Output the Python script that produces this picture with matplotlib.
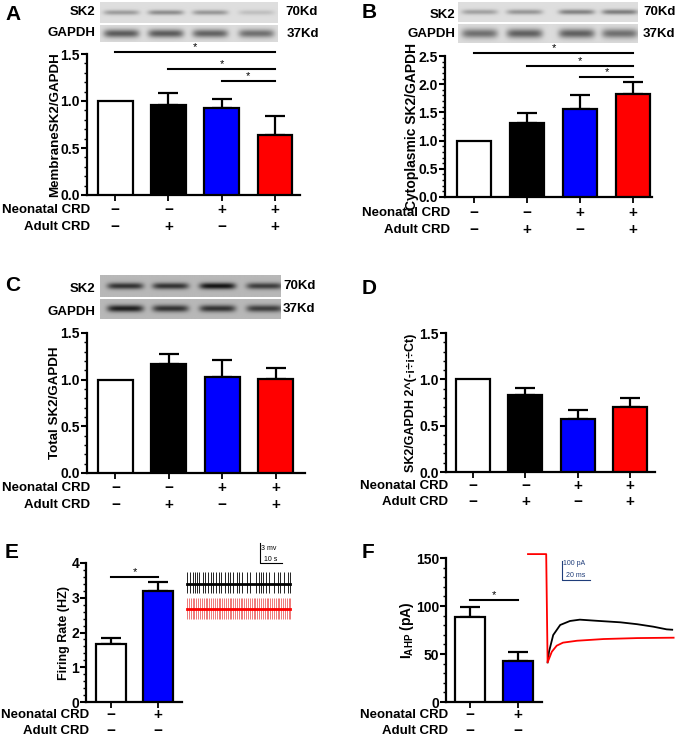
import numpy as np
import matplotlib
matplotlib.use("Agg")
import matplotlib.pyplot as plt
from matplotlib.ticker import MultipleLocator

plt.rcParams['font.family'] = ['Liberation Sans', 'DejaVu Sans']
plt.rcParams['font.weight'] = 'bold'

# ---------------- data ----------------
colors4 = ['white', 'black', '#0000ff', '#ff0000']
neonatal4 = ['−', '−', '+', '+']
adult4 = ['−', '+', '−', '+']

membrane_mean = [1.0, 0.96, 0.93, 0.64]
membrane_err = [0.0, 0.12, 0.09, 0.20]

cyto_mean = [1.0, 1.31, 1.56, 1.82]
cyto_err = [0.0, 0.18, 0.24, 0.22]

total_mean = [1.0, 1.17, 1.03, 1.01]
total_err = [0.0, 0.11, 0.18, 0.11]

mrna_mean = [1.0, 0.83, 0.57, 0.70]
mrna_err = [0.0, 0.08, 0.10, 0.10]

colors2 = ['white', '#0000ff']
neonatal2 = ['−', '+']
adult2 = ['−', '−']

firing_mean = [1.67, 3.19]
firing_err = [0.18, 0.25]

iahp_mean = [88.5, 43.0]
iahp_err = [10.5, 9.5]

# significance brackets: (from bar, to bar, height)
sig_A = [(0, 3, 1.52), (1, 3, 1.34), (2, 3, 1.21)]
sig_B = [(0, 3, 2.55), (1, 3, 2.32), (2, 3, 2.13)]
sig_E = [(0, 1, 3.6)]
sig_F = [(0, 1, 106)]

# blot band intensities (darkness 0..1) per lane
blotA_sk2 = [0.26, 0.32, 0.28, 0.12]
blotA_gapdh = [0.50, 0.50, 0.47, 0.42]
blotB_sk2 = [0.24, 0.28, 0.36, 0.38]
blotB_gapdh = [0.42, 0.48, 0.48, 0.42]
blotC_sk2 = [0.52, 0.52, 0.64, 0.48]
blotC_gapdh = [0.60, 0.52, 0.52, 0.48]

# firing traces (spike times, s)
black_spikes = [0, 1.2, 2.5, 3.5, 4.6, 5.5, 7.4, 8.3, 9.5, 10.8, 12.0, 13.2, 14.6, 15.7,
                17.2, 18.6, 19.7, 21.2, 23.0, 24.0, 25.2, 27.3, 29.0, 31.8, 32.9, 34.1,
                35.0, 36.3, 37.8, 39.8, 41.8, 42.7, 44.5, 46.2, 47.3]
red_spikes = [0, 0.8, 1.7, 2.5, 3.3, 4.2, 5.0, 5.9, 6.7, 7.6, 8.4, 9.3, 10.1, 11.0, 11.8,
              12.6, 13.5, 14.4, 15.2, 16.1, 16.9, 17.7, 18.6, 19.5, 20.3, 21.2, 22.0, 22.9,
              23.7, 24.6, 25.4, 26.3, 27.1, 28.0, 28.8, 29.7, 30.5, 31.4, 32.2, 33.1, 33.9,
              34.8, 35.6, 36.5, 37.3, 38.2, 39.0, 39.9, 40.7, 41.6, 42.4, 43.3, 44.1, 45.0,
              45.8, 46.7, 47.3]

# IAHP traces (ms, pA)
red_t = [0, 13, 14, 17, 20.5, 25, 35, 54, 78, 104]
red_i = [440, 440, -130, -74, -42, -26, -16, -7, -2, 0]
black_t = [14, 15, 18, 23, 30, 37, 49, 66, 78, 89.5, 99, 103]
black_i = [-130, -74, 14, 67, 88, 95, 89, 81, 71, 58, 44, 42]

# ---------------- figure ----------------
W, H = 678, 738
fig = plt.figure(figsize=(W / 100, H / 100), dpi=100)
FS = 9.5
TFS = 10


def add_ax(l, r, t, b):
    return fig.add_axes([l / W, 1 - b / H, (r - l) / W, (b - t) / H])


def fx(px):
    return px / W


def fy(py):
    return 1 - py / H


def bar_panel(box, means, errs, cols, ylim, major, minor, ylabel, xlim, width,
              neo, adu, rows_px, label_right, ylab_px, ylab_fs):
    ax = add_ax(*box)
    x = np.arange(len(means))
    ax.bar(x, means, width=width, color=cols, edgecolor='black', linewidth=1.6, zorder=3)
    for xi, m, e in zip(x, means, errs):
        if e > 0:
            ax.errorbar(xi, m, yerr=[[0], [e]], color='black', elinewidth=1.6,
                        capsize=7, capthick=1.6, zorder=2)
    ax.set_ylim(*ylim)
    ax.set_xlim(*xlim)
    for s in ['top', 'right']:
        ax.spines[s].set_visible(False)
    for s in ['left', 'bottom']:
        ax.spines[s].set_linewidth(1.6)
    ax.yaxis.set_major_locator(MultipleLocator(major))
    ax.yaxis.set_minor_locator(MultipleLocator(minor))
    ax.tick_params(axis='y', which='major', length=4, width=1.5, labelsize=TFS, pad=1)
    ax.tick_params(axis='y', which='minor', length=2.5, width=1.0)
    ax.set_xticks(x)
    ax.set_xticklabels([])
    ax.tick_params(axis='x', length=4, width=1.3)
    yfmt = '{:.1f}' if major < 1 else '{:.0f}'
    ax.set_yticklabels([yfmt.format(v) for v in ax.get_yticks()], fontweight='bold')
    ax.set_ylim(*ylim)
    axh = box[3] - box[2]
    for row, labs in zip(rows_px, [neo, adu]):
        for xi, lab in zip(x, labs):
            ax.text(xi, -(row - box[3]) / axh, lab, transform=ax.get_xaxis_transform(),
                    ha='center', va='center', fontsize=11, fontweight='bold')
    fig.text(fx(label_right), fy(rows_px[0]), 'Neonatal CRD', ha='right', va='center',
             fontsize=FS, fontweight='bold')
    fig.text(fx(label_right), fy(rows_px[1]), 'Adult CRD', ha='right', va='center',
             fontsize=FS, fontweight='bold')
    fig.text(fx(ylab_px), fy((box[2] + box[3]) / 2), ylabel, rotation=90, ha='center',
             va='center', fontsize=ylab_fs, fontweight='bold')
    return ax


def add_sig(ax, sigs):
    for a, b, h in sigs:
        ax.plot([a, b], [h, h], color='black', lw=1.5, clip_on=False, zorder=4)
        ax.text((a + b) / 2, h, '*', ha='center', va='bottom', fontsize=8,
                fontweight='normal', clip_on=False)


def blot(l, r, t, b, bands, bg, lane_frac, band_h, band_w=0.1):
    ax = add_ax(l, r, t, b)
    nx, ny = int(r - l) * 3, int(b - t) * 3
    xs = np.linspace(0, 1, nx)
    ys = np.linspace(0, 1, ny)
    img = np.full((ny, nx), bg)
    for c, d in zip(lane_frac, bands):
        px = np.exp(-((xs - c) / band_w) ** 6)
        py = np.exp(-((ys - 0.5) / band_h) ** 2)
        img -= d * np.outer(py, px)
    ax.imshow(img, cmap='gray', vmin=0, vmax=1, aspect='auto', interpolation='bilinear')
    ax.set_axis_off()
    return ax


def label_blot(x_right, y, text):
    fig.text(fx(x_right), fy(y), text, ha='right', va='center', fontsize=FS, fontweight='bold')


def label_kd(x_left, y, text):
    fig.text(fx(x_left), fy(y), text, ha='left', va='center', fontsize=FS, fontweight='bold')


# panel letters
for lt, (px, py) in zip('ABCDEF', [(5, 15), (362, 13), (5, 285), (362, 288), (5, 552), (362, 552)]):
    fig.text(fx(px), fy(py), lt, fontsize=15, fontweight='bold', ha='left', va='center')

# ---- A ----
lanesA = [0.12, 0.37, 0.62, 0.88]
blot(100, 278, 2, 23, blotA_sk2, 0.87, lanesA, 0.12)
blot(100, 278, 25, 42, blotA_gapdh, 0.86, lanesA, 0.25)
label_blot(95, 12, 'SK2'); label_blot(95, 33, 'GAPDH')
label_kd(285, 12, '70Kd'); label_kd(287, 34, '37Kd')
axA = bar_panel((87, 300, 54, 195), membrane_mean, membrane_err, colors4, (0, 1.5), 0.5, 0.1,
                'MembraneSK2/GAPDH', (-0.53, 3.47), 0.65, neonatal4, adult4, (210, 227), 90, 55, 9.6)
add_sig(axA, sig_A)

# ---- B ----
lanesB = [0.12, 0.37, 0.66, 0.90]
blot(458, 638, 2, 22, blotB_sk2, 0.87, lanesB, 0.13)
blot(458, 638, 24, 43, blotB_gapdh, 0.86, lanesB, 0.25)
label_blot(455, 15, 'SK2'); label_blot(455, 34, 'GAPDH')
label_kd(643, 12, '70Kd'); label_kd(643, 34, '37Kd')
axB = bar_panel((445, 652, 56, 197), cyto_mean, cyto_err, colors4, (0, 2.5), 0.5, 0.1,
                'Cytoplasmic SK2/GAPDH', (-0.55, 3.36), 0.65, neonatal4, adult4, (213, 230), 450, 412, 10)
add_sig(axB, sig_B)

# ---- C ----
lanesC = [0.14, 0.39, 0.65, 0.91]
blot(100, 280, 275, 297, blotC_sk2, 0.72, lanesC, 0.15)
blot(100, 280, 299, 319, blotC_gapdh, 0.72, lanesC, 0.17)
label_blot(95, 289, 'SK2'); label_blot(95, 312, 'GAPDH')
label_kd(283, 286, '70Kd'); label_kd(283, 309, '37Kd')
bar_panel((87, 305, 333, 473), total_mean, total_err, colors4, (0, 1.5), 0.5, 0.1,
          'Total SK2/GAPDH', (-0.53, 3.55), 0.65, neonatal4, adult4, (488, 505), 90, 55, 9.6)

# ---- D ----
bar_panel((446, 655, 333, 472), mrna_mean, mrna_err, colors4, (0, 1.5), 0.5, 0.1,
          'SK2/GAPDH 2^(-¡÷¡÷Ct)', (-0.52, 3.48), 0.65, neonatal4, adult4, (486, 502), 448, 411, 9)

# ---- E ----
axE = bar_panel((86, 182, 563, 702), firing_mean, firing_err, colors2, (0, 4), 1, 0.2,
                'Firing Rate (HZ)', (-0.53, 1.51), 0.62, neonatal2, adult2, (715, 731), 89, 64, 9)
add_sig(axE, sig_E)

# E traces inset
tE = add_ax(180, 300, 535, 625)
tE.set_xlim(-3.36, 51.9)
tE.set_ylim(-6.1, 7.39)
tE.set_axis_off()
tE.vlines(black_spikes, -1.35, 1.8, color='#222222', lw=0.7)
tE.plot([black_spikes[0], black_spikes[-1]], [0, 0], color='black', lw=2)
tE.vlines(red_spikes, -3.7 - 1.55, -3.7 + 1.6, color='#ee7777', lw=0.7)
tE.plot([red_spikes[0], red_spikes[-1]], [-3.7, -3.7], color='#ff0000', lw=2)
tE.plot([33.5, 33.5, 43.5], [6.15, 3.15, 3.15], color='black', lw=0.8)
tE.text(34.0, 5.4, '3 mv', fontsize=5, fontweight='normal', va='center', ha='left')
tE.text(35.2, 3.75, '10 s', fontsize=5, fontweight='normal', va='center', ha='left')

# ---- F ----
axF = bar_panel((446, 542, 558, 702), iahp_mean, iahp_err, colors2, (0, 150), 50, 10,
                r'I$_{\mathregular{AHP}}$ (pA)', (-0.5, 1.5), 0.62, neonatal2, adult2, (715, 731), 448, 407, 10)
add_sig(axF, sig_F)

tF = add_ax(520, 678, 545, 675)
tF.set_xlim(-5.71, 107.14)
tF.set_ylim(-196.3, 487.9)
tF.set_axis_off()
tF.plot(black_t, black_i, color='black', lw=1.3)
tF.plot(red_t, red_i, color='#ff0000', lw=1.3)
navy = '#1f3d7a'
tF.plot([24.3, 24.3, 44.3], [404, 304, 304], color=navy, lw=0.8)
tF.text(25.2, 393, '100 pA', fontsize=5, fontweight='normal', color=navy, va='center', ha='left')
tF.text(27.5, 330, '20 ms', fontsize=5, fontweight='normal', color=navy, va='center', ha='left')

fig.savefig('out.png', dpi=100)
